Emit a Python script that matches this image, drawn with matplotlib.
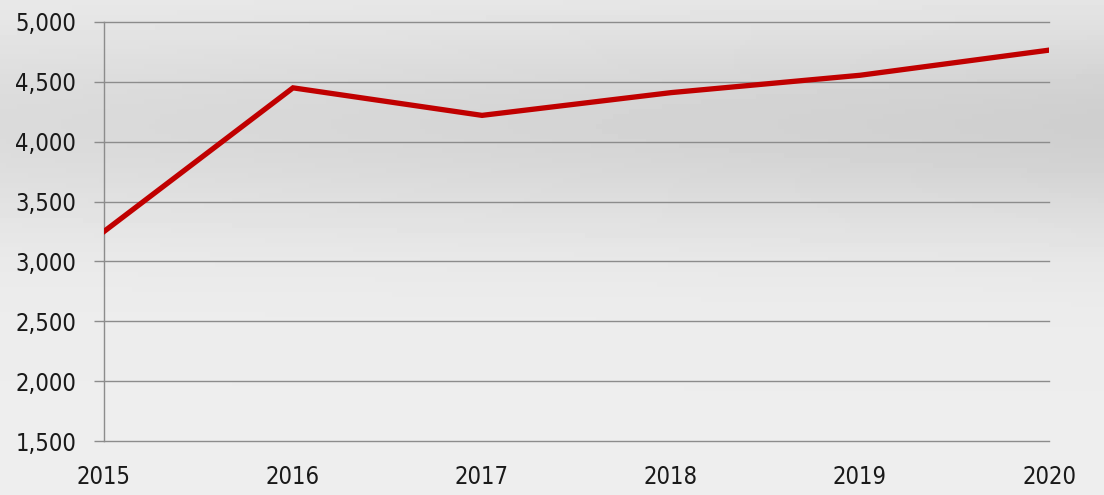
import numpy as np
import matplotlib
matplotlib.use('Agg')
import matplotlib.pyplot as plt
from matplotlib.ticker import FuncFormatter

# values
years = [2015, 2016, 2017, 2018, 2019, 2020]
values = [3250, 4450, 4220, 4410, 4555, 4765]
y_ticks = [1500, 2000, 2500, 3000, 3500, 4000, 4500, 5000]

plt.rcParams['font.family'] = ['DejaVu Sans']
plt.rcParams['font.stretch'] = 'condensed'

fig = plt.figure(figsize=(11.04, 4.95), dpi=100)

# soft gray backdrop in place of the blurred photo
bg = fig.add_axes([0, 0, 1, 1], zorder=-1)
gx, gy = np.meshgrid(np.linspace(0, 1, 200), np.linspace(0, 1, 100))
shade = 0.93 - 0.12 * np.exp(-((gy - 0.25) ** 2) / 0.05) * (0.6 + 0.4 * gx)
bg.imshow(shade, cmap='gray', vmin=0, vmax=1, aspect='auto', extent=[0, 1, 0, 1])
bg.axis('off')

ax = fig.add_axes([104 / 1104, 1 - 441 / 495, 945 / 1104, 419 / 495])
ax.patch.set_alpha(0)

ax.plot(years, values, color='#c00000', linewidth=3.8, solid_joinstyle='miter', zorder=3)

ax.set_xlim(2015, 2020)
ax.set_ylim(1500, 5000)
ax.set_xticks(years)
ax.set_yticks(y_ticks)
ax.yaxis.set_major_formatter(FuncFormatter(lambda v, p: f'{int(v):,}'))

ax.grid(axis='y', color='#8c8c8c', linewidth=1.0)
for gl in ax.get_ygridlines():
    gl.set_clip_on(False)
ax.set_axisbelow(True)
for s in ['top', 'right', 'bottom']:
    ax.spines[s].set_visible(False)
ax.spines['left'].set_color('#8c8c8c')
ax.spines['left'].set_linewidth(1.0)

ax.tick_params(axis='y', length=7, color='#8c8c8c', width=1.0, pad=13,
               labelsize=17, labelcolor='#1a1a1a')
ax.tick_params(axis='x', length=0, pad=17, labelsize=17, labelcolor='#1a1a1a')

fig.savefig('out.png', dpi=100)
